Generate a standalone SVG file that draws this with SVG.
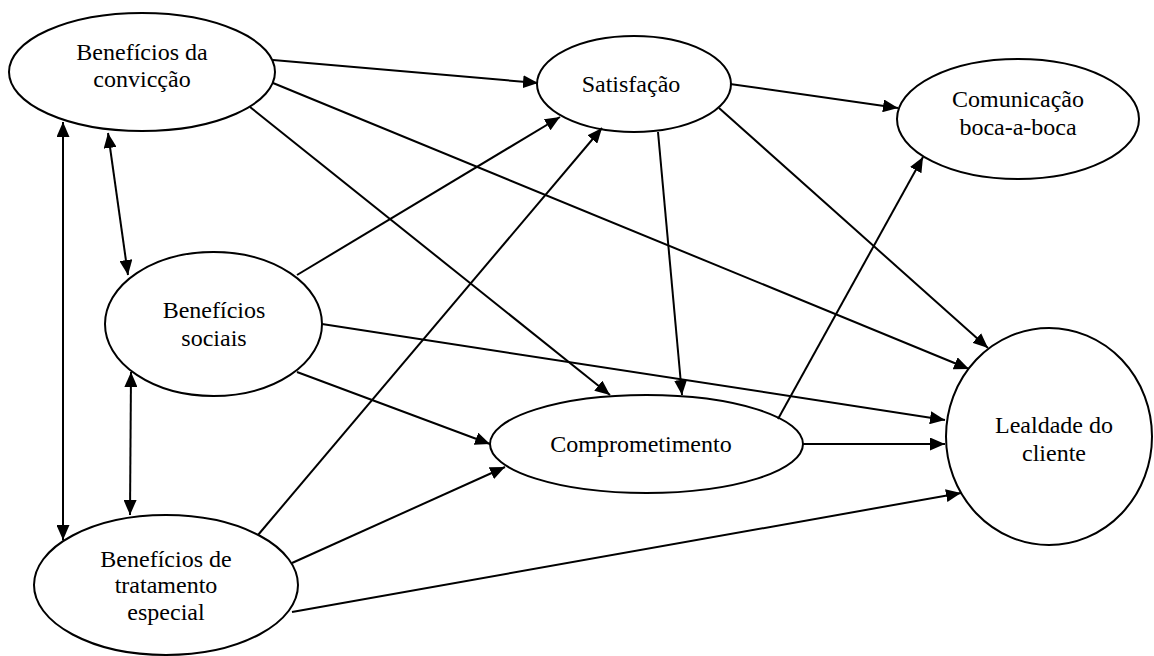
<svg xmlns="http://www.w3.org/2000/svg" width="1154" height="656" viewBox="0 0 1154 656">
  <style>
    .node ellipse { fill: #ffffff; stroke: #000000; stroke-width: 2; }
    .node text { font-family: "Liberation Serif", "Times New Roman", serif; font-size: 24px; fill: #000000; text-anchor: middle; }
    #edges line { stroke: #000000; stroke-width: 2; fill: none; marker-end: url(#ah); }
    #edges line.both { marker-start: url(#ah); }
  </style>
  <defs>
    <marker id="ah" viewBox="0 0 15 13" refX="15" refY="6.5" markerWidth="15" markerHeight="13" markerUnits="userSpaceOnUse" orient="auto-start-reverse">
      <path d="M0,0 L15,6.5 L0,13 z" fill="#000000"/>
    </marker>
  </defs>
  <rect width="1154" height="656" fill="#ffffff"/>

  <!-- nodes -->
  <g id="conviccao" class="node">
    <ellipse cx="142" cy="72" rx="133" ry="59"/>
    <text x="142" y="60">Benefícios da</text>
    <text x="142" y="87">convicção</text>
  </g>
  <g id="satisfacao" class="node">
    <ellipse cx="634" cy="84" rx="97" ry="48"/>
    <text x="631" y="92">Satisfação</text>
  </g>
  <g id="comunicacao" class="node">
    <ellipse cx="1018" cy="119" rx="121" ry="60"/>
    <text x="1018" y="107">Comunicação</text>
    <text x="1018" y="135">boca-a-boca</text>
  </g>
  <g id="sociais" class="node">
    <ellipse cx="213.5" cy="324" rx="108.5" ry="72"/>
    <text x="214" y="318">Benefícios</text>
    <text x="214" y="346">sociais</text>
  </g>
  <g id="comprometimento" class="node">
    <ellipse cx="646.5" cy="444" rx="156.5" ry="49"/>
    <text x="641" y="452">Comprometimento</text>
  </g>
  <g id="lealdade" class="node">
    <ellipse cx="1049" cy="436.5" rx="103" ry="108.5"/>
    <text x="1054" y="433">Lealdade do</text>
    <text x="1054" y="461">cliente</text>
  </g>
  <g id="tratamento" class="node">
    <ellipse cx="166" cy="585" rx="132" ry="70"/>
    <text x="166" y="567">Benefícios de</text>
    <text x="166" y="593">tratamento</text>
    <text x="166" y="620">especial</text>
  </g>

  <!-- connectors -->
  <g id="edges">
    <line class="both" x1="63" y1="122" x2="63" y2="540"/>
    <line class="both" x1="108" y1="133" x2="128" y2="275"/>
    <line class="both" x1="131" y1="372" x2="130" y2="515"/>
    <line x1="273" y1="60" x2="538" y2="83"/>
    <line x1="273" y1="83" x2="969" y2="369"/>
    <line x1="250" y1="107" x2="610" y2="395"/>
    <line x1="730" y1="84" x2="898" y2="108"/>
    <line x1="719" y1="108" x2="988" y2="348"/>
    <line x1="658" y1="132" x2="682" y2="395"/>
    <line x1="297" y1="275" x2="560" y2="117"/>
    <line x1="322" y1="324" x2="945" y2="420"/>
    <line x1="297" y1="372" x2="490" y2="444"/>
    <line x1="803" y1="444" x2="945" y2="444"/>
    <line x1="778" y1="419" x2="923" y2="157"/>
    <line x1="258" y1="535" x2="602" y2="128"/>
    <line x1="292" y1="563" x2="505" y2="467"/>
    <line x1="292" y1="612" x2="961" y2="493"/>
  </g>
</svg>
